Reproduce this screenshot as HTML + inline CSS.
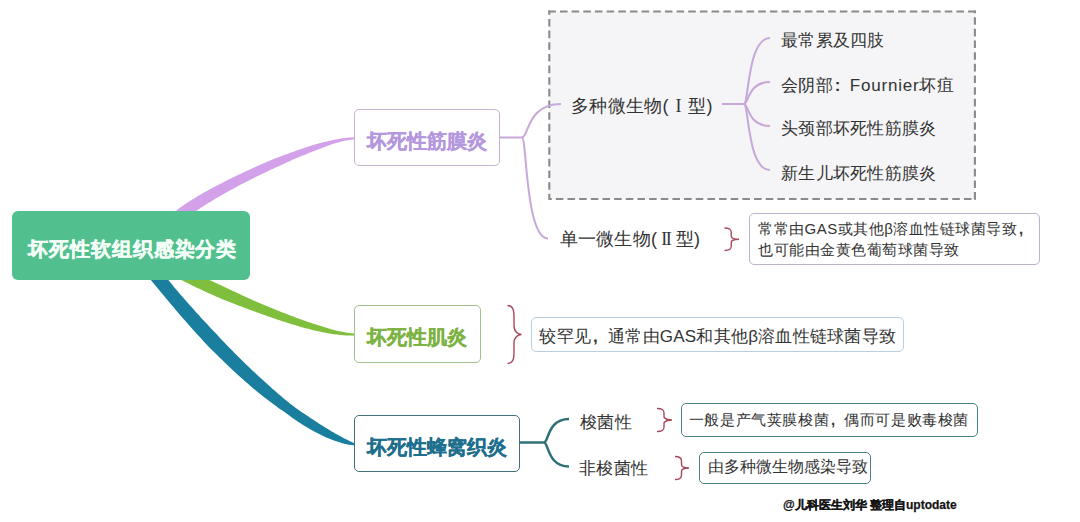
<!DOCTYPE html>
<html><head><meta charset="utf-8"><style>
*{margin:0;padding:0;box-sizing:border-box}
html,body{width:1080px;height:522px;background:#fff;overflow:hidden;font-family:"Liberation Sans",sans-serif;color:#333}
.a{position:absolute;white-space:nowrap}
.box{position:absolute;border-radius:5px;background:#fff;white-space:nowrap}
.root{left:12px;top:211px;width:238px;height:68.5px;background:#52c08e;color:#f4fff8;font-weight:bold;font-size:20px;letter-spacing:0.9px;padding:9.5px 0 0 3.5px;line-height:57px;text-align:center;border-radius:6px;-webkit-text-stroke:0.35px #f4fff8}
.n1{left:353.5px;top:108.5px;width:146.5px;height:57.5px;border:1.9px solid #c6b4cc;color:#b497de;-webkit-text-stroke:0.3px #b497de;font-weight:bold;font-size:19.5px;padding-top:9.5px;line-height:45px;text-align:center}
.n2{left:353.5px;top:305.3px;width:127.5px;height:57.5px;border:1.9px solid #a3bf8c;color:#7cb342;-webkit-text-stroke:0.3px #7cb342;font-weight:bold;font-size:19.5px;padding-top:8.5px;line-height:45px;text-align:center}
.n3{left:353.5px;top:414.5px;width:166.5px;height:57.5px;border:1.9px solid #41707b;color:#1e6f8e;-webkit-text-stroke:0.3px #1e6f8e;font-weight:bold;font-size:19.5px;padding-top:9.5px;line-height:45px;text-align:center}
.t17{font-size:17px;line-height:20px;letter-spacing:0.25px}
.fw{display:inline-block;width:1em;text-align:left;padding-left:0.12em;font-weight:bold}
.t18{font-size:18px;line-height:20px;letter-spacing:0.3px}
.r1{display:inline-block;width:19.5px;text-align:center;font-family:"Liberation Serif",serif;font-size:18px}
.r2{display:inline-block;width:18.5px;text-align:center;font-family:"Liberation Serif",serif;font-size:18px;letter-spacing:-1.5px;padding-right:1.5px}
.b1{left:748.5px;top:213.2px;width:291px;height:51.5px;border:1.5px solid #bfb2cb;font-size:15px;line-height:20.5px;padding:5px 0 0 8.5px;letter-spacing:0.5px}
.b2{left:531.3px;top:317.3px;width:373px;height:34.8px;border:1.7px solid #b9cfde;font-size:17px;line-height:29px;padding:3.3px 0 0 7px;letter-spacing:0.25px}
.b3{left:681.3px;top:403px;width:297px;height:34px;border:1.7px solid #4b8084;font-size:15px;line-height:29px;padding:1px 0 0 6.5px;letter-spacing:0.6px}
.b4{left:698.5px;top:451.5px;width:172.5px;height:32px;border:1.7px solid #4b8084;font-size:15.5px;line-height:28px;padding:0.5px 0 0 8px}
.foot{left:783px;top:497px;font-size:12px;font-weight:bold;color:#151515;line-height:16px;-webkit-text-stroke:0.25px #151515}
</style></head><body>
<svg width="1080" height="522" style="position:absolute;left:0;top:0">
<rect x="549.3" y="11.5" width="425.6" height="187.5" fill="#f5f5f7"/>
<g stroke="#8a8a8a" stroke-width="2.1" stroke-dasharray="7.6 4.06" fill="none">
<line x1="548.3" y1="11.5" x2="976" y2="11.5" stroke-dashoffset="0"/>
<line x1="974.9" y1="10.5" x2="974.9" y2="200" stroke-dashoffset="4.96"/>
<line x1="549" y1="199" x2="976" y2="199" stroke-dashoffset="4.86"/>
<line x1="549.3" y1="10.5" x2="549.3" y2="200" stroke-dashoffset="3.26"/>
</g>
<path d="M169.6,234.3 L179.4,224.4 L180.0,223.8 L180.7,223.2 L181.4,222.5 L182.1,221.8 L182.8,221.2 L183.6,220.5 L184.5,219.7 L185.4,219.0 L186.3,218.3 L187.2,217.5 L188.2,216.7 L189.2,216.0 L190.3,215.2 L191.4,214.4 L192.5,213.6 L193.6,212.7 L194.8,211.9 L196.0,211.1 L197.3,210.2 L198.5,209.4 L199.8,208.5 L201.1,207.6 L202.5,206.8 L203.9,205.9 L205.2,205.0 L206.7,204.1 L208.1,203.2 L209.6,202.3 L211.1,201.4 L212.6,200.5 L214.1,199.6 L215.6,198.6 L217.2,197.7 L218.8,196.8 L220.4,195.9 L222.0,194.9 L223.7,194.0 L225.3,193.1 L227.0,192.1 L228.7,191.2 L230.4,190.2 L232.1,189.3 L233.8,188.4 L235.5,187.4 L237.3,186.5 L239.0,185.6 L240.8,184.6 L242.6,183.7 L244.4,182.8 L246.2,181.8 L248.0,180.9 L249.8,180.0 L251.6,179.1 L253.4,178.2 L255.3,177.2 L257.1,176.3 L258.9,175.5 L260.8,174.6 L262.6,173.7 L264.5,172.8 L266.3,171.9 L268.2,171.1 L270.0,170.2 L271.9,169.3 L273.8,168.5 L275.6,167.6 L277.4,166.8 L279.3,166.0 L281.1,165.1 L282.9,164.2 L284.7,163.4 L286.5,162.6 L288.4,161.7 L290.1,160.9 L291.9,160.1 L293.7,159.3 L295.5,158.5 L297.3,157.8 L299.0,157.0 L300.8,156.3 L302.5,155.6 L304.3,154.9 L306.0,154.2 L307.7,153.5 L309.4,152.8 L311.1,152.2 L312.7,151.5 L314.4,150.9 L316.0,150.3 L317.6,149.7 L319.2,149.1 L320.8,148.4 L322.3,147.8 L323.9,147.3 L325.4,146.7 L326.9,146.1 L328.4,145.6 L329.8,145.1 L331.2,144.6 L332.6,144.1 L334.0,143.6 L335.4,143.2 L336.7,142.8 L338.1,142.4 L339.4,142.1 L340.6,141.7 L341.9,141.4 L343.1,141.1 L344.3,140.9 L345.5,140.6 L346.6,140.4 L347.7,140.2 L348.8,140.0 L349.8,139.9 L350.8,139.7 L351.8,139.6 L352.7,139.5 L353.6,139.4 L354.5,139.4 L354.5,137.4 L353.6,137.4 L352.6,137.4 L351.6,137.4 L350.6,137.4 L349.5,137.5 L348.5,137.6 L347.3,137.7 L346.2,137.8 L345.0,138.0 L343.8,138.2 L342.6,138.3 L341.3,138.5 L340.0,138.8 L338.7,139.0 L337.3,139.3 L335.9,139.5 L334.5,139.8 L333.1,140.1 L331.6,140.4 L330.2,140.7 L328.6,141.0 L327.1,141.4 L325.6,141.7 L324.0,142.1 L322.4,142.5 L320.8,142.9 L319.1,143.3 L317.5,143.8 L315.8,144.2 L314.1,144.7 L312.4,145.3 L310.7,145.8 L309.0,146.4 L307.3,146.9 L305.5,147.5 L303.7,148.1 L302.0,148.7 L300.2,149.3 L298.4,150.0 L296.5,150.6 L294.7,151.3 L292.9,151.9 L291.0,152.6 L289.2,153.2 L287.3,153.9 L285.4,154.6 L283.5,155.3 L281.6,156.0 L279.7,156.7 L277.8,157.4 L275.9,158.1 L274.0,158.9 L272.1,159.7 L270.2,160.5 L268.3,161.3 L266.4,162.1 L264.5,162.9 L262.6,163.7 L260.7,164.6 L258.8,165.4 L256.9,166.3 L255.0,167.1 L253.2,168.0 L251.3,168.8 L249.4,169.7 L247.5,170.5 L245.6,171.4 L243.8,172.3 L241.9,173.2 L240.0,174.0 L238.2,174.9 L236.4,175.8 L234.5,176.7 L232.7,177.5 L230.9,178.4 L229.1,179.3 L227.3,180.2 L225.5,181.1 L223.8,182.0 L222.0,182.9 L220.3,183.8 L218.6,184.7 L216.9,185.6 L215.2,186.4 L213.5,187.3 L211.9,188.2 L210.2,189.1 L208.6,190.0 L207.0,190.9 L205.4,191.8 L203.9,192.6 L202.3,193.5 L200.8,194.4 L199.3,195.3 L197.9,196.1 L196.4,197.0 L195.0,197.9 L193.6,198.7 L192.2,199.6 L190.8,200.4 L189.5,201.3 L188.2,202.1 L186.9,202.9 L185.7,203.8 L184.5,204.6 L183.3,205.4 L182.1,206.2 L181.0,207.0 L179.9,207.8 L178.8,208.6 L177.8,209.4 L176.8,210.2 L175.8,211.0 L174.8,211.8 L173.9,212.5 L173.0,213.3 L172.2,214.1 L171.4,214.8 L170.6,215.6 L160.7,225.5Z" fill="#d2a1ea"/>
<path d="M164.8,269.9 L176.7,277.3 L177.2,277.6 L177.7,277.9 L178.2,278.2 L178.8,278.6 L179.4,278.9 L180.1,279.3 L180.7,279.6 L181.4,280.0 L182.2,280.4 L183.0,280.8 L183.8,281.3 L184.6,281.7 L185.5,282.2 L186.4,282.6 L187.4,283.1 L188.4,283.6 L189.4,284.1 L190.4,284.6 L191.5,285.2 L192.6,285.7 L193.7,286.2 L194.9,286.8 L196.1,287.4 L197.3,287.9 L198.6,288.5 L199.9,289.1 L201.2,289.7 L202.5,290.3 L203.8,291.0 L205.2,291.6 L206.6,292.2 L208.0,292.9 L209.5,293.5 L211.0,294.2 L212.4,294.8 L214.0,295.5 L215.5,296.2 L217.0,296.9 L218.6,297.6 L220.2,298.3 L221.8,299.0 L223.4,299.7 L225.1,300.3 L226.8,301.0 L228.4,301.6 L230.2,302.3 L231.9,303.0 L233.6,303.6 L235.4,304.3 L237.1,305.0 L238.9,305.7 L240.7,306.3 L242.5,307.0 L244.3,307.7 L246.1,308.4 L247.9,309.0 L249.7,309.7 L251.6,310.4 L253.4,311.0 L255.3,311.7 L257.1,312.4 L259.0,313.1 L260.8,313.8 L262.7,314.4 L264.6,315.1 L266.4,315.8 L268.3,316.4 L270.2,317.1 L272.1,317.8 L274.0,318.4 L275.8,319.1 L277.7,319.7 L279.6,320.3 L281.5,320.9 L283.3,321.5 L285.2,322.1 L287.1,322.7 L288.9,323.3 L290.8,323.9 L292.7,324.5 L294.5,325.0 L296.3,325.6 L298.2,326.1 L300.0,326.7 L301.8,327.2 L303.6,327.7 L305.4,328.2 L307.2,328.6 L309.0,329.1 L310.8,329.5 L312.6,330.0 L314.3,330.4 L316.0,330.8 L317.8,331.2 L319.5,331.6 L321.2,331.9 L322.8,332.3 L324.5,332.6 L326.2,332.9 L327.8,333.2 L329.4,333.5 L331.0,333.7 L332.6,334.0 L334.1,334.2 L335.6,334.4 L337.1,334.6 L338.6,334.8 L340.1,335.0 L341.5,335.1 L342.9,335.2 L344.3,335.3 L345.7,335.4 L347.0,335.5 L348.4,335.5 L349.6,335.6 L350.9,335.6 L352.1,335.6 L353.3,335.5 L354.5,335.5 L354.5,333.5 L353.4,333.4 L352.2,333.3 L351.0,333.2 L349.8,333.1 L348.6,332.9 L347.3,332.7 L346.0,332.5 L344.7,332.3 L343.4,332.0 L342.0,331.8 L340.6,331.5 L339.2,331.2 L337.8,330.9 L336.4,330.5 L334.9,330.2 L333.4,329.8 L331.9,329.4 L330.4,329.0 L328.9,328.5 L327.3,328.1 L325.7,327.6 L324.1,327.1 L322.5,326.6 L320.9,326.1 L319.3,325.6 L317.6,325.0 L316.0,324.5 L314.3,324.0 L312.6,323.4 L310.9,322.8 L309.2,322.3 L307.4,321.7 L305.7,321.1 L304.0,320.4 L302.2,319.8 L300.4,319.2 L298.7,318.5 L296.9,317.9 L295.1,317.2 L293.3,316.6 L291.5,315.9 L289.7,315.2 L287.9,314.5 L286.1,313.8 L284.3,313.1 L282.4,312.4 L280.6,311.7 L278.8,311.0 L277.0,310.3 L275.2,309.5 L273.3,308.8 L271.5,308.1 L269.7,307.3 L267.9,306.6 L266.1,305.8 L264.2,305.1 L262.4,304.3 L260.6,303.5 L258.8,302.8 L257.1,302.0 L255.3,301.2 L253.5,300.4 L251.7,299.6 L250.0,298.9 L248.3,298.1 L246.5,297.3 L244.8,296.5 L243.1,295.7 L241.4,294.9 L239.7,294.1 L238.0,293.3 L236.4,292.5 L234.7,291.8 L233.1,291.0 L231.4,290.2 L229.8,289.4 L228.2,288.7 L226.7,288.0 L225.1,287.2 L223.5,286.5 L222.0,285.8 L220.5,285.1 L219.0,284.4 L217.5,283.8 L216.0,283.1 L214.6,282.4 L213.2,281.7 L211.8,281.1 L210.4,280.4 L209.1,279.8 L207.7,279.2 L206.4,278.6 L205.2,277.9 L203.9,277.3 L202.7,276.7 L201.5,276.2 L200.3,275.6 L199.2,275.0 L198.1,274.5 L197.0,273.9 L196.0,273.4 L195.0,272.9 L194.0,272.4 L193.0,272.0 L192.1,271.5 L191.2,271.0 L190.4,270.6 L189.6,270.2 L188.8,269.8 L188.1,269.4 L187.4,269.0 L186.7,268.7 L186.1,268.3 L185.5,268.0 L185.0,267.7 L184.5,267.4 L184.1,267.1 L183.7,266.9 L183.3,266.7 L171.4,259.3Z" fill="#80bf3e"/>
<path d="M136.0,261.2 L144.7,272.2 L148.0,276.3 L151.3,280.4 L154.5,284.4 L157.7,288.3 L160.9,292.2 L164.1,296.0 L167.2,299.7 L170.3,303.5 L173.4,307.1 L176.4,310.7 L179.4,314.2 L182.4,317.7 L185.4,321.1 L188.4,324.5 L191.3,327.8 L194.2,331.0 L197.1,334.2 L200.0,337.3 L202.8,340.4 L205.6,343.4 L208.4,346.4 L211.2,349.2 L214.0,352.0 L216.8,354.8 L219.5,357.5 L222.3,360.1 L224.9,362.7 L227.6,365.2 L230.2,367.7 L232.9,370.2 L235.4,372.6 L238.0,374.9 L240.5,377.2 L243.1,379.5 L245.5,381.7 L248.0,383.8 L250.4,385.9 L252.8,388.0 L255.2,390.0 L257.6,391.9 L259.9,393.8 L262.3,395.7 L264.6,397.5 L266.9,399.2 L269.1,400.9 L271.3,402.6 L273.5,404.2 L275.7,405.8 L277.8,407.4 L279.9,408.9 L282.0,410.3 L284.1,411.8 L286.1,413.2 L288.0,414.6 L289.9,416.0 L291.8,417.4 L293.7,418.7 L295.5,419.9 L297.4,421.2 L299.1,422.4 L300.9,423.6 L302.6,424.7 L304.3,425.8 L306.0,426.8 L307.7,427.8 L309.4,428.8 L311.0,429.7 L312.6,430.6 L314.2,431.4 L315.7,432.2 L317.2,433.0 L318.7,433.8 L320.1,434.5 L321.6,435.2 L323.0,435.9 L324.3,436.6 L325.7,437.2 L327.0,437.8 L328.3,438.3 L329.6,438.8 L330.8,439.3 L332.0,439.7 L333.2,440.2 L334.3,440.6 L335.4,441.0 L336.5,441.3 L337.6,441.7 L338.6,442.0 L339.6,442.3 L340.5,442.6 L341.5,442.9 L342.3,443.2 L343.2,443.4 L344.0,443.6 L344.8,443.9 L345.6,444.1 L346.3,444.2 L347.0,444.4 L347.7,444.5 L348.4,444.6 L349.0,444.7 L349.6,444.8 L350.1,444.8 L350.6,444.9 L351.1,445.0 L351.6,445.0 L352.0,445.1 L352.4,445.1 L352.7,445.2 L353.0,445.2 L353.3,445.2 L353.6,445.2 L353.8,445.2 L354.0,445.3 L354.1,445.3 L354.3,445.3 L354.4,445.3 L354.4,445.3 L354.6,445.3 L354.6,443.3 L354.7,443.3 L354.7,443.3 L354.6,443.3 L354.5,443.2 L354.4,443.2 L354.2,443.1 L354.1,443.1 L353.8,443.0 L353.6,442.9 L353.3,442.8 L353.0,442.6 L352.7,442.5 L352.3,442.3 L351.9,442.1 L351.5,441.9 L351.0,441.7 L350.6,441.5 L350.1,441.3 L349.5,441.0 L349.0,440.7 L348.4,440.4 L347.8,440.1 L347.1,439.8 L346.4,439.5 L345.7,439.1 L345.0,438.8 L344.2,438.4 L343.4,438.0 L342.6,437.6 L341.7,437.1 L340.9,436.6 L340.0,436.2 L339.0,435.6 L338.1,435.1 L337.1,434.6 L336.1,434.0 L335.0,433.4 L334.0,432.7 L332.9,432.1 L331.7,431.4 L330.6,430.7 L329.4,429.9 L328.2,429.2 L326.9,428.5 L325.7,427.7 L324.4,426.9 L323.0,426.1 L321.7,425.3 L320.3,424.4 L318.8,423.5 L317.4,422.5 L315.9,421.6 L314.4,420.6 L312.9,419.5 L311.3,418.5 L309.7,417.4 L308.1,416.3 L306.4,415.2 L304.7,414.1 L303.0,412.9 L301.2,411.7 L299.4,410.5 L297.6,409.2 L295.8,407.9 L293.9,406.5 L292.0,405.1 L290.1,403.7 L288.2,402.1 L286.3,400.6 L284.3,399.0 L282.4,397.3 L280.4,395.6 L278.3,393.9 L276.3,392.1 L274.2,390.3 L272.1,388.4 L270.0,386.5 L267.8,384.6 L265.6,382.6 L263.4,380.5 L261.2,378.5 L258.9,376.4 L256.5,374.3 L254.2,372.1 L251.8,369.9 L249.4,367.6 L247.0,365.3 L244.6,362.9 L242.1,360.5 L239.6,358.0 L237.1,355.5 L234.5,353.0 L232.0,350.3 L229.4,347.7 L226.7,345.0 L224.1,342.2 L221.4,339.4 L218.7,336.5 L216.0,333.6 L213.2,330.7 L210.3,327.7 L207.5,324.6 L204.6,321.5 L201.7,318.4 L198.8,315.1 L195.8,311.9 L192.9,308.5 L189.8,305.2 L186.8,301.7 L183.7,298.2 L180.6,294.7 L177.5,291.1 L174.4,287.4 L171.3,283.6 L168.1,279.8 L164.9,275.9 L161.8,271.9 L158.5,267.9 L155.3,263.8 L146.6,252.8Z" fill="#1a7f9f"/>
<path d="M500,137.5 L523,137.5" stroke="#c7a8d8" stroke-width="2" fill="none"/><path d="M522,137.5 C528.7,137.5 526.8,104 561,104" stroke="#c7a8d8" stroke-width="2" fill="none"/><path d="M522,137.5 C526.75,137.5 525.5,238.5 548,238.5" stroke="#c7a8d8" stroke-width="2" fill="none"/>
<path d="M722,104 L745,104" stroke="#c7a8d8" stroke-width="2" fill="none"/><path d="M744,104 C748.75,104 747.5,38 770,38" stroke="#c7a8d8" stroke-width="2" fill="none"/><path d="M744,104 C748.75,104 747.5,82 770,82" stroke="#c7a8d8" stroke-width="2" fill="none"/><path d="M744,104 C748.75,104 747.5,126 770,126" stroke="#c7a8d8" stroke-width="2" fill="none"/><path d="M744,104 C748.75,104 747.5,170 770,170" stroke="#c7a8d8" stroke-width="2" fill="none"/>
<path d="M520,442.5 L545,442.5" stroke="#2e7177" stroke-width="2.5" fill="none"/><path d="M544,442.5 C548.6,442.5 547.4,419 569,419" stroke="#2e7177" stroke-width="2.5" fill="none"/><path d="M544,442.5 C548.6,442.5 547.4,466.5 569,466.5" stroke="#2e7177" stroke-width="2.5" fill="none"/>
<path d="M507.5,305.5 C513.0,305.5 514.0,310.14 514.0,317.1 L514.0,325.8 C514.0,332.18 518.5,334.5 521.5,334.5 C518.5,334.5 514.0,336.82 514.0,343.2 L514.0,351.9 C514.0,358.86 513.0,363.5 507.5,363.5" fill="none" stroke="#a8485a" stroke-width="1.4"/>
<path d="M724.5,228 C730.25,228 731.25,229.8 731.25,232.5 L731.25,235.875 C731.25,238.35 736,239.25 739,239.25 C736,239.25 731.25,240.15 731.25,242.625 L731.25,246.0 C731.25,248.7 730.25,250.5 724.5,250.5" fill="none" stroke="#a8485a" stroke-width="1.4"/>
<path d="M657,408.5 C663.0,408.5 664.0,410.34 664.0,413.1 L664.0,416.55 C664.0,419.08 669,420.0 672,420.0 C669,420.0 664.0,420.92 664.0,423.45 L664.0,426.9 C664.0,429.66 663.0,431.5 657,431.5" fill="none" stroke="#a8485a" stroke-width="1.4"/>
<path d="M675,456.5 C680.5,456.5 681.5,458.34 681.5,461.1 L681.5,464.55 C681.5,467.08 686,468.0 689,468.0 C686,468.0 681.5,468.92 681.5,471.45 L681.5,474.9 C681.5,477.66 680.5,479.5 675,479.5" fill="none" stroke="#a8485a" stroke-width="1.4"/>
</svg>
<div class="box root">坏死性软组织感染分类</div>
<div class="box n1">坏死性筋膜炎</div>
<div class="box n2">坏死性肌炎</div>
<div class="box n3">坏死性蜂窝织炎</div>
<div class="a t18" style="left:571px;top:95.5px">多种微生物(<span class="r1">I</span>型)</div>
<div class="a t17" style="left:781px;top:31px">最常累及四肢</div>
<div class="a t17" style="left:781px;top:75.5px">会阴部<span class="fw">:</span><span style="letter-spacing:0.8px">Fournier</span>坏疽</div>
<div class="a t17" style="left:781px;top:119.2px">头颈部坏死性筋膜炎</div>
<div class="a t17" style="left:781px;top:164px">新生儿坏死性筋膜炎</div>
<div class="a t18" style="left:559.5px;top:229px">单一微生物(<span class="r2">II</span>型)</div>
<div class="box b1">常常由GAS或其他β溶血性链球菌导致<span class="fw">,</span><br>也可能由金黄色葡萄球菌导致</div>
<div class="box b2">较罕见<span class="fw">,</span>通常由GAS和其他β溶血性链球菌导致</div>
<div class="a t17" style="left:580px;top:413px">梭菌性</div>
<div class="a t17" style="left:579px;top:459px">非梭菌性</div>
<div class="box b3">一般是产气荚膜梭菌<span class="fw">,</span>偶而可是败毒梭菌</div>
<div class="box b4">由多种微生物感染导致</div>
<div class="a foot">@儿科医生刘华 整理自uptodate</div>
</body></html>
